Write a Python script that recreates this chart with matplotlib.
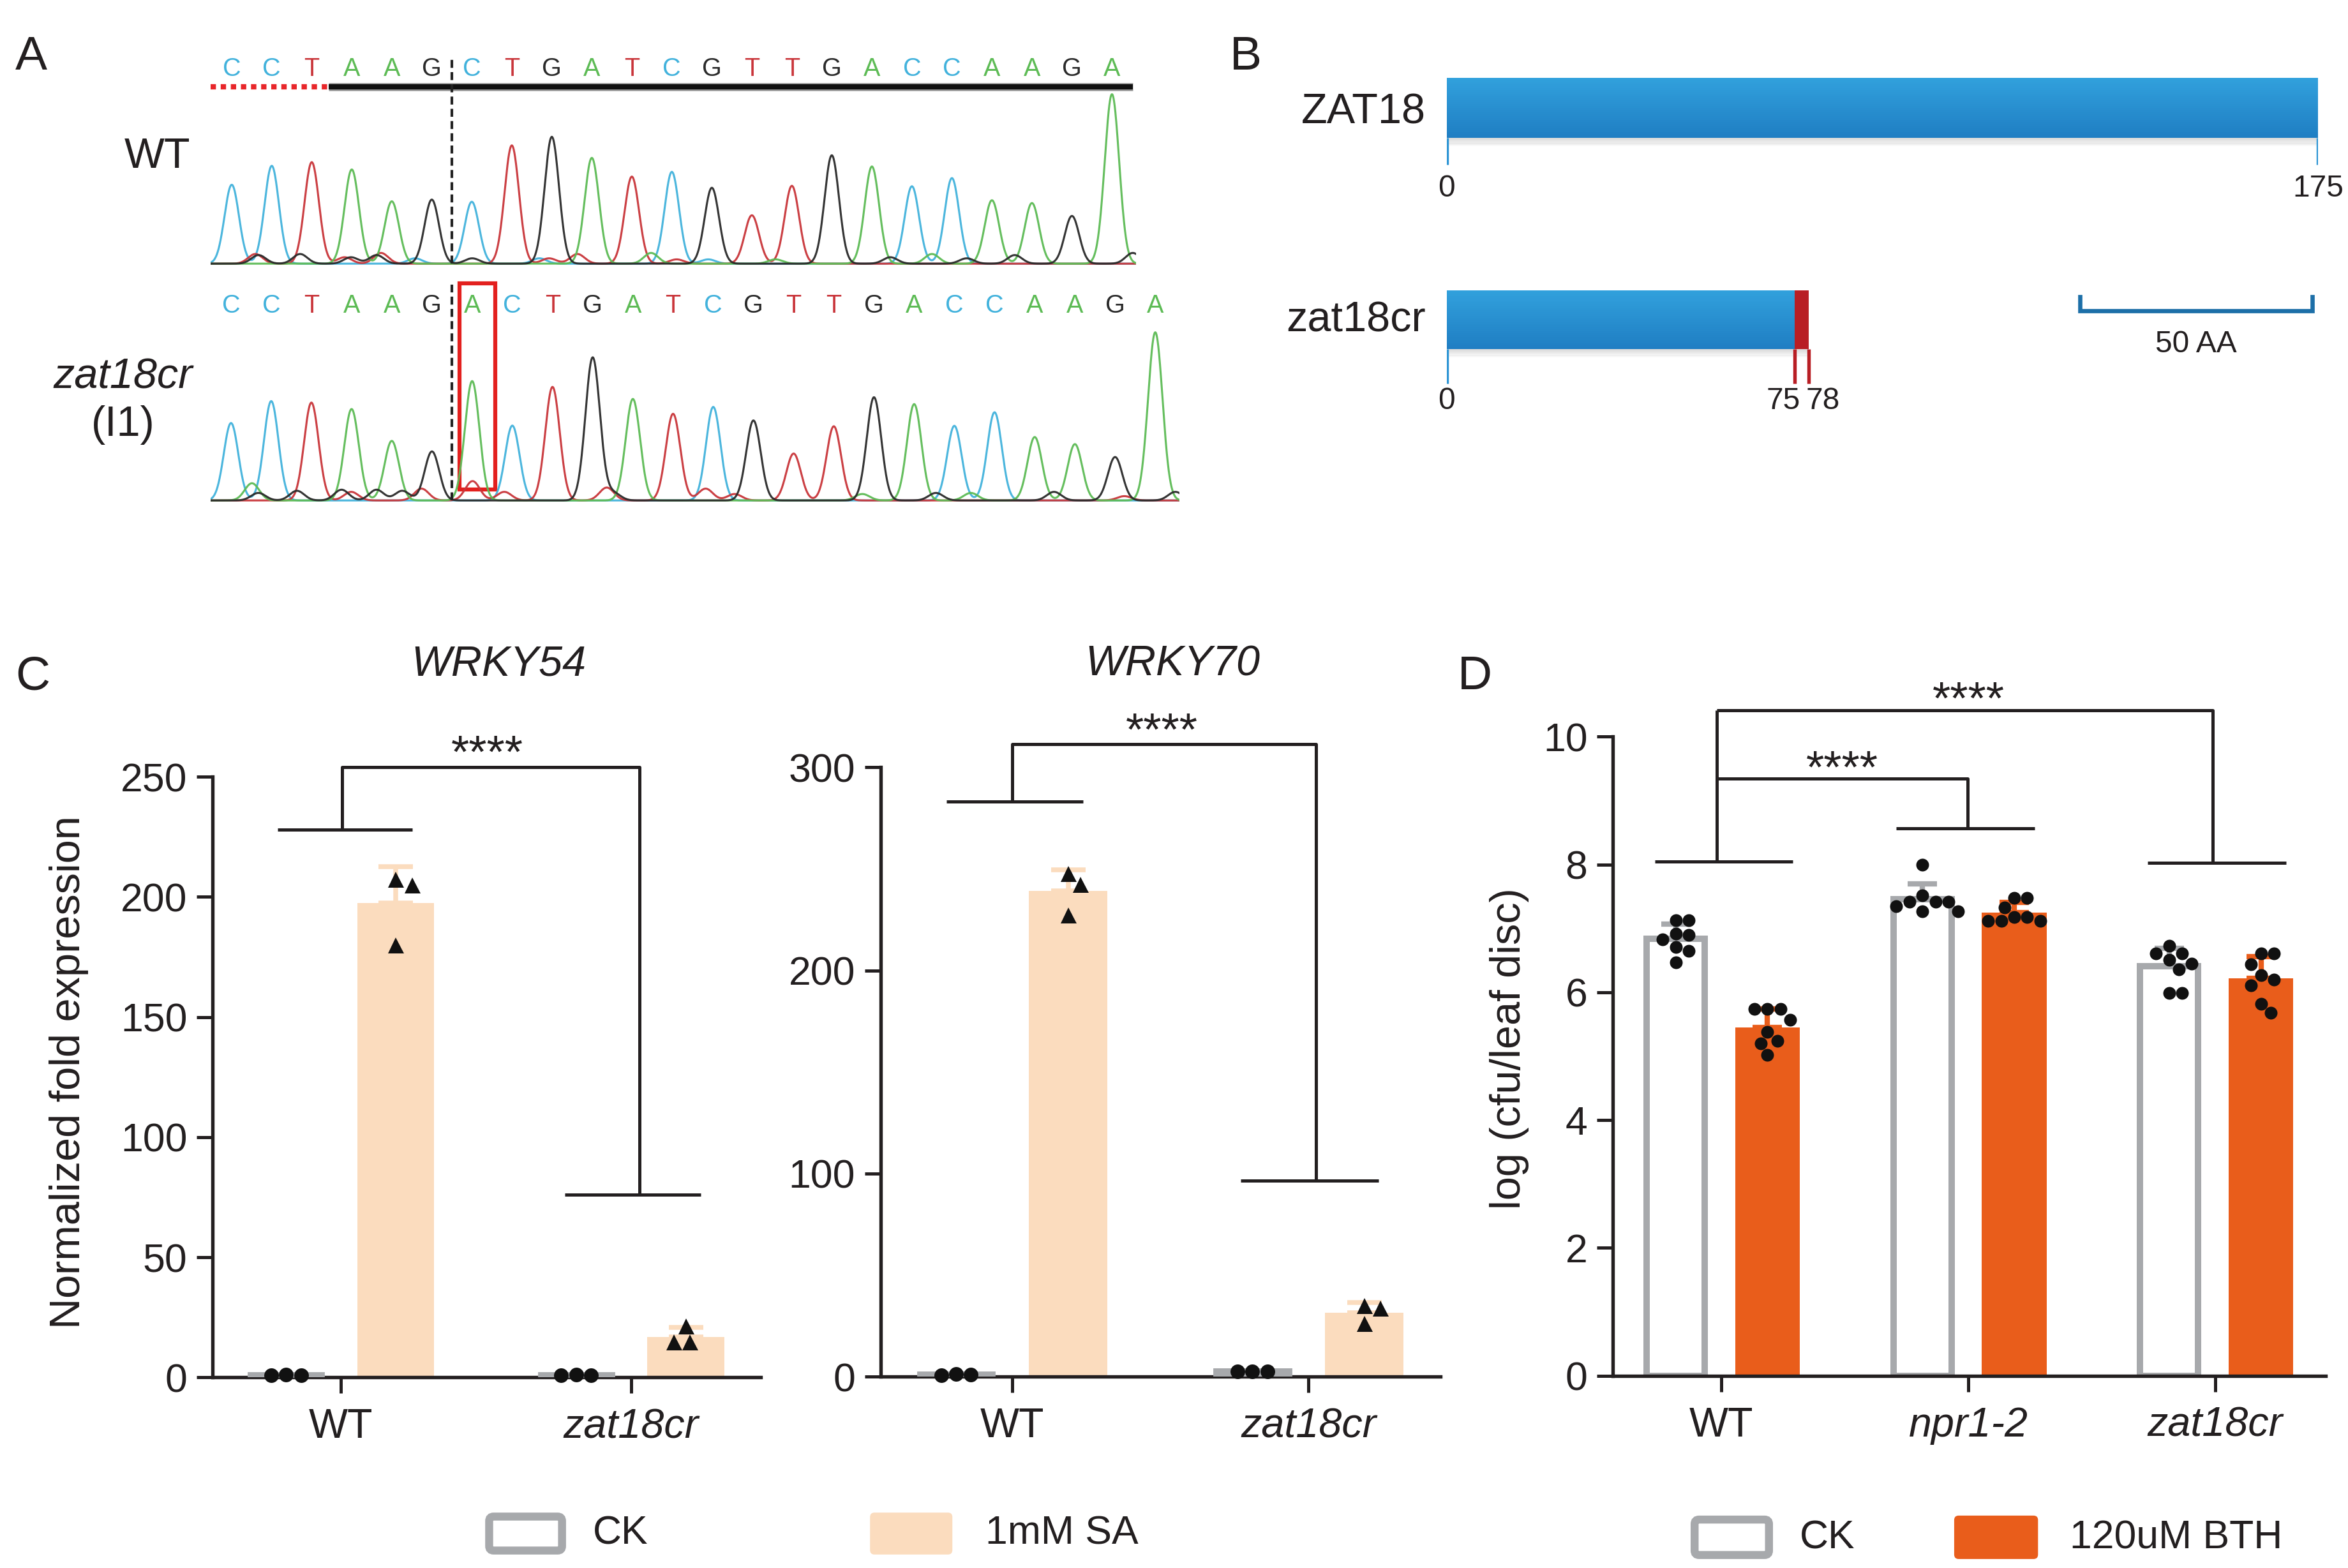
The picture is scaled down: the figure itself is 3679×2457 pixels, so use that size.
import numpy as np
import matplotlib
matplotlib.use("Agg")
import matplotlib.pyplot as plt
from matplotlib.patches import Rectangle, FancyBboxPatch
from matplotlib.colors import to_rgb
import matplotlib.transforms as mtrans

plt.rcParams['font.family'] = ['Liberation Sans', 'DejaVu Sans']
INK = '#231f20'

# ======================= DATA =======================
# Panel A : Sanger traces (called bases + main peak heights, arbitrary units)
wt_bases = list("CCTAAGCTGATCGTTGACCAAGA")
wt_heights = [367, 455, 472, 438, 290, 298, 288, 550, 590, 492, 405, 427,
              353, 225, 362, 485, 452, 360, 398, 295, 282, 222, 788]
wt_minor_pos = [0.59, 0.67, 1.71, 2.82, 2.98, 3.62, 3.73, 4.58, 6.01, 7.69, 7.93,
                8.64, 10.48, 11.12, 11.91, 13.59, 14.94, 16.46, 17.50, 18.37, 19.57, 22.52]
wt_minor_base = list("TGGTGGTCGCTTATCAGGAGGG")
wt_minor_h = [45, 40, 45, 30, 30, 40, 50, 25, 25, 25, 25,
              45, 50, 20, 20, 20, 20, 30, 45, 25, 40, 50]

mut_bases = list("CCTAAGACTGATCGTTGACCAAGA")
mut_heights = [360, 462, 455, 425, 277, 228, 555, 348, 528, 665, 472, 403,
               435, 372, 218, 345, 480, 448, 347, 410, 295, 262, 202, 782]
mut_minor_pos = [0.52, 0.68, 1.64, 2.75, 2.99, 3.62, 4.26, 4.74, 6.01, 6.80,
                 9.35, 9.51, 11.81, 12.53, 15.71, 17.54, 18.41, 20.48, 22.23, 23.50]
mut_minor_base = list("AGGGTGGTTTTGTTAGAGTG")
mut_minor_h = [80, 35, 45, 50, 40, 50, 45, 55, 90, 40,
               60, 35, 55, 30, 30, 35, 35, 40, 20, 40]
cut_site = 5.5           # between base 6 and 7
insert_index = 6         # inserted A in zat18cr

# Panel B : protein lengths (aa)
zat18_len = 175
zat18cr_inframe = 75
zat18cr_end = 78
scale_bar_aa = 50

# Panel C : normalized fold expression (3 replicates)
c_groups = ['WT', 'zat18cr']
w54_ck = [[1.0, 0.9, 1.1], [1.2, 0.8, 1.0]]
w54_sa = [[207.3, 204.9, 179.9], [21.3, 14.6, 14.6]]
w70_ck = [[0.8, 1.2, 1.0], [2.4, 2.6, 2.5]]
w70_sa = [[247.6, 242.3, 227.2], [34.9, 33.7, 26.0]]
w54_yticks = [0, 50, 100, 150, 200, 250]
w70_yticks = [0, 100, 200, 300]

# Panel D : log(cfu/leaf disc), 8 leaf discs
d_groups = ['WT', 'npr1-2', 'zat18cr']
d_ck = [[7.13, 7.13, 6.92, 6.83, 6.90, 6.71, 6.65, 6.47],
        [8.00, 7.52, 7.42, 7.42, 7.42, 7.35, 7.27, 7.27],
        [6.73, 6.61, 6.61, 6.51, 6.45, 6.36, 5.99, 5.99]]
d_bth = [[5.74, 5.74, 5.74, 5.57, 5.38, 5.24, 5.20, 5.02],
         [7.48, 7.48, 7.33, 7.18, 7.18, 7.12, 7.12, 7.12],
         [6.61, 6.61, 6.44, 6.27, 6.20, 6.11, 5.82, 5.68]]
d_yticks = [0, 2, 4, 6, 8, 10]

# ======================= FIGURE =======================
fig = plt.figure(figsize=(3679/300, 2457/300), dpi=300)
W, H = 1568.0, 1047.0


def rect(x0, y0, x1, y1):
    return [x0/W, 1 - y1/H, (x1-x0)/W, (y1-y0)/H]


ov = fig.add_axes([0, 0, 1, 1], zorder=10)
ov.set_xlim(0, W); ov.set_ylim(H, 0); ov.axis('off'); ov.patch.set_alpha(0)

# ---------------- Panel A ----------------
BASECOL = {'A': '#5dbb55', 'C': '#42b2dc', 'G': '#2a2a2a', 'T': '#c9353a'}


def chromatogram(ax, bases, heights, mpos, mbase, mh, xlim):
    xs = np.linspace(xlim[0], xlim[1], 4000)
    idx = np.arange(len(bases))
    for b in 'CTAG':
        y = np.zeros_like(xs)
        for i, bb, h in zip(idx, bases, heights):
            if bb == b:
                y += h*np.exp(-0.5*((xs-i)/0.18)**2)
        for p, bb, h in zip(mpos, mbase, mh):
            if bb == b:
                y += h*np.exp(-0.5*((xs-p)/0.18)**2)
        ax.plot(xs, y, color=BASECOL[b], lw=0.75, alpha=0.95)
    for i, bb in zip(idx, bases):
        ax.text(i, 905, bb, color=BASECOL[bb], ha='center', va='center',
                fontsize=9.5, clip_on=False)
    ax.set_xlim(*xlim); ax.set_ylim(-10, 800); ax.axis('off')


axw = fig.add_axes(rect(140.6, 61.2, 758.6, 177.5))
chromatogram(axw, wt_bases, wt_heights, wt_minor_pos, wt_minor_base, wt_minor_h, (-0.53, 22.6))
axw.plot([2.42, 22.52], [822, 822], color='#9a9a9a', lw=3.0, solid_capstyle='butt', clip_on=False)
axw.plot([2.42, 22.52], [822, 822], color='#111111', lw=2.0, solid_capstyle='butt', clip_on=False)
axw.plot([-0.53, 2.42], [822, 822], color='#e8262a', lw=2.0, ls=(0, (1, 0.9)), clip_on=False)
axw.plot([cut_site, cut_site], [0, 960], color='#222222', lw=1.0, ls=(0, (3, 1.6)), clip_on=False)

axm = fig.add_axes(rect(140.6, 219.3, 787.6, 335.6))
chromatogram(axm, mut_bases, mut_heights, mut_minor_pos, mut_minor_base, mut_minor_h, (-0.51, 23.6))
axm.plot([cut_site, cut_site], [0, 1004], color='#222222', lw=1.0, ls=(0, (3, 1.6)), clip_on=False)
axm.add_patch(Rectangle((insert_index-0.31, 50), 0.88, 960, fill=False,
                        edgecolor='#e3201e', lw=1.5, clip_on=False))

ov.text(105, 105, 'WT', fontsize=16, ha='center', va='center', color=INK)
ov.text(82, 252, 'zat18cr', fontsize=16, ha='center', va='center', style='italic', color=INK)
ov.text(82, 284, '(I1)', fontsize=16, ha='center', va='center', color=INK)

# ---------------- Panel B ----------------
def mix(c1, c2, t):
    a, b = np.array(to_rgb(c1)), np.array(to_rgb(c2))
    return tuple(a*(1-t) + b*t)


def gradbar(ax, x0, x1, y0, y1, ctop, cbot, n=30):
    for k in range(n):
        ax.add_patch(Rectangle((x0, y0 + (y1-y0)*k/n), x1-x0, (y1-y0)/n*1.05,
                               facecolor=mix(ctop, cbot, k/(n-1)), edgecolor='none', zorder=3))


def shadow(ax, x0, x1, y1):
    for k in range(6):
        ax.add_patch(Rectangle((x0, y1 + k*0.9), x1-x0, 1.0, facecolor='#808080',
                               alpha=0.28*(1-k/6), edgecolor='none', zorder=2))


BLUE_T, BLUE_B, RED = '#31a0dc', '#1f7ec3', '#b81e24'

axb1 = fig.add_axes(rect(966, 40, 1548, 140))
axb1.set_xlim(0, zat18_len); axb1.set_ylim(140, 40); axb1.axis('off')
gradbar(axb1, 0, zat18_len, 52, 92, BLUE_T, BLUE_B)
shadow(axb1, 0, zat18_len, 92)
axb1.vlines([0, zat18_len], 92, 110, color='#2d95d4', lw=1.3, zorder=4)
for v in [0, zat18_len]:
    axb1.text(v, 126, str(v), ha='center', va='center', fontsize=11.5, color=INK)

sc2 = 3.10
axb2 = fig.add_axes(rect(966, 180, 966 + zat18_len*sc2, 280))
axb2.set_xlim(0, zat18_len); axb2.set_ylim(280, 180); axb2.axis('off')
gradbar(axb2, 0, zat18cr_inframe, 194, 233, BLUE_T, BLUE_B)
axb2.add_patch(Rectangle((zat18cr_inframe, 194), zat18cr_end - zat18cr_inframe, 39,
                         facecolor=RED, edgecolor='none', zorder=3))
shadow(axb2, 0, zat18cr_end, 233)
axb2.vlines([0], 233, 256, color='#2d95d4', lw=1.3, zorder=4)
axb2.vlines([zat18cr_inframe, zat18cr_end], 233, 256, color=RED, lw=1.3, zorder=4)
axb2.text(0, 268, '0', ha='center', va='center', fontsize=11.5, color=INK)
axb2.text(zat18cr_inframe + 1.2, 268, str(zat18cr_inframe), ha='right', va='center', fontsize=11.5, color=INK)
axb2.text(zat18cr_end - 0.6, 268, str(zat18cr_end), ha='left', va='center', fontsize=11.5, color=INK)
sb0 = (1389 - 966)/sc2
axb2.plot([sb0, sb0, sb0 + scale_bar_aa, sb0 + scale_bar_aa], [198, 207.5, 207.5, 198],
          color='#1d6fa8', lw=1.6, clip_on=False, solid_joinstyle='miter')
axb2.text(sb0 + scale_bar_aa/2, 230, '%d AA' % scale_bar_aa, ha='center', va='center',
          fontsize=11.5, color=INK)

ov.text(952, 75, 'ZAT18', fontsize=16, ha='right', va='center', color=INK)
ov.text(952, 214, 'zat18cr', fontsize=16, ha='right', va='center', color=INK)

# ---------------- helpers for bar panels ----------------
def style_axes(ax, yticks, xlabels, italic_flags):
    for s in ['top', 'right']:
        ax.spines[s].set_visible(False)
    for s in ['left', 'bottom']:
        ax.spines[s].set_linewidth(1.3)
        ax.spines[s].set_color(INK)
    ax.set_yticks(yticks)
    ax.set_xticks(range(len(xlabels)))
    ax.set_xticklabels(xlabels)
    for lab, it in zip(ax.get_xticklabels(), italic_flags):
        lab.set_style('italic' if it else 'normal')
    ax.tick_params(axis='both', direction='out', length=6, width=1.2, color=INK,
                   labelsize=15, labelcolor=INK, pad=3.5)
    ax.tick_params(axis='x', labelsize=15.5, pad=5.5)


def swarm_offsets(ax, vals, ms):
    fw, fh = fig.get_size_inches()*fig.dpi
    bb = ax.get_position()
    x0, x1 = ax.get_xlim(); y0, y1 = ax.get_ylim()
    ppx = bb.width*fw/(x1-x0); ppy = bb.height*fh/(y1-y0)
    d = ms*fig.dpi/72.0*1.02
    vals = np.asarray(vals, float)
    order = np.argsort(-vals, kind='stable')
    steps = [0.0]
    for j in range(1, 80):
        steps += [j*d/4, -j*d/4]
    placed = []
    offs = np.zeros(len(vals))
    for k in order:
        yy = vals[k]*ppy
        for s in steps:
            if all((s-px)**2 + (yy-py)**2 >= d*d for px, py in placed):
                break
        placed.append((s, yy)); offs[k] = s/ppx
    return offs


def stars(ax, x, yc, fs):
    tr = mtrans.offset_copy(ax.transData, fig=fig, y=-0.47*fs, units='points')
    ax.text(x, yc, '****', transform=tr, ha='center', va='baseline', fontsize=fs,
            color=INK, clip_on=False)


def bline(ax, xs, ys):
    ax.plot(xs, ys, color=INK, lw=1.2, clip_on=False, solid_capstyle='butt')


GREY = '#a7a9ac'
PEACH = '#fbdcbe'
ORANGE = '#e95d1b'


def draw_c(ax, ck, sa, off=0.189, w=0.265):
    for g in range(len(ck)):
        m_ck, m_sa = np.mean(ck[g]), np.mean(sa[g])
        s_ck, s_sa = np.std(ck[g], ddof=1), np.std(sa[g], ddof=1)
        ax.bar(g - off, m_ck, width=w - 0.022, facecolor='white', edgecolor=GREY, lw=2.6, zorder=2.6)
        ax.bar(g + off, m_sa, width=w, facecolor=PEACH, edgecolor='none', zorder=2)
        ax.errorbar([g - off], [m_ck], yerr=[[0], [s_ck]], fmt='none', ecolor=GREY,
                    elinewidth=1.8, capsize=6, capthick=1.8, zorder=2.6)
        ax.errorbar([g + off], [m_sa], yerr=[[0], [s_sa]], fmt='none', ecolor=PEACH,
                    elinewidth=1.8, capsize=6.5, capthick=1.8, zorder=1.9)
        o1 = swarm_offsets(ax, ck[g], 5.5)
        ax.plot(g - off + o1, ck[g], 'o', color='#111111', ms=5.5, mew=0, zorder=4, clip_on=False)
        o2 = swarm_offsets(ax, sa[g], 6.0)
        ax.plot(g + off + o2, sa[g], '^', color='#111111', ms=6.0, mew=0, zorder=4, clip_on=False)


# ---------------- Panel C (left: WRKY54) ----------------
axc1 = fig.add_axes(rect(142, 518.7, 508, 919.7))
axc1.set_xlim(-0.442, 1.447); axc1.set_ylim(0, 250)
style_axes(axc1, w54_yticks, c_groups, [False, True])
draw_c(axc1, w54_ck, w54_sa)
bline(axc1, [-0.219, 0.246], [228, 228])
bline(axc1, [0.004, 0.004, 1.03, 1.03], [228, 254, 254, 76])
bline(axc1, [0.772, 1.24], [76, 76])
stars(axc1, 0.504, 263, 17.5)

# ---------------- Panel C (right: WRKY70) ----------------
axc2 = fig.add_axes(rect(588, 512.3, 962, 919.2))
axc2.set_xlim(-0.444, 1.446); axc2.set_ylim(0, 300)
style_axes(axc2, w70_yticks, c_groups, [False, True])
draw_c(axc2, w70_ck, w70_sa)
bline(axc2, [-0.222, 0.240], [283, 283])
bline(axc2, [0.0, 0.0, 1.026, 1.026], [283, 311.5, 311.5, 96.4])
bline(axc2, [0.772, 1.236], [96.4, 96.4])
stars(axc2, 0.505, 321.6, 17.5)

ov.text(333, 444, 'WRKY54', fontsize=16, style='italic', ha='center', va='center', color=INK)
ov.text(783, 444, 'WRKY70', fontsize=16, style='italic', ha='center', va='center', color=INK)
ov.text(46, 716, 'Normalized fold expression', fontsize=16, rotation=90,
        ha='center', va='center', color=INK)

# ---------------- Panel D ----------------
axd = fig.add_axes(rect(1077, 491.9, 1553, 918.6))
axd.set_xlim(-0.441, 2.448); axd.set_ylim(0, 10)
style_axes(axd, d_yticks, d_groups, [False, True, True])
off, w = 0.186, 0.262
for g in range(len(d_groups)):
    m_ck, m_bt = np.mean(d_ck[g]), np.mean(d_bth[g])
    s_ck, s_bt = np.std(d_ck[g], ddof=1), np.std(d_bth[g], ddof=1)
    axd.bar(g - off, m_ck, width=w - 0.026, facecolor='white', edgecolor=GREY, lw=2.4, zorder=2)
    axd.bar(g + off, m_bt, width=w, facecolor=ORANGE, edgecolor='none', zorder=2)
    axd.errorbar([g - off], [m_ck], yerr=[[0], [s_ck]], fmt='none', ecolor=GREY,
                 elinewidth=2.0, capsize=5.5, capthick=2.0, zorder=3)
    axd.errorbar([g + off], [m_bt], yerr=[[0], [s_bt]], fmt='none', ecolor=ORANGE,
                 elinewidth=2.0, capsize=5.5, capthick=2.0, zorder=3)
    o1 = swarm_offsets(axd, d_ck[g], 4.8)
    axd.plot(g - off + o1, d_ck[g], 'o', color='#111111', ms=4.8, mew=0, zorder=4)
    o2 = swarm_offsets(axd, d_bth[g], 4.8)
    axd.plot(g + off + o2, d_bth[g], 'o', color='#111111', ms=4.8, mew=0, zorder=4)

bline(axd, [-0.271, 0.288], [8.05, 8.05])
bline(axd, [0.708, 1.269], [8.57, 8.57])
bline(axd, [1.726, 2.288], [8.03, 8.03])
bline(axd, [-0.02, -0.02], [8.05, 10.41])
bline(axd, [-0.02, 0.998, 0.998], [9.34, 9.34, 8.57])
bline(axd, [-0.02, 1.99, 1.99], [10.41, 10.41, 8.03])
stars(axd, 0.49, 9.62, 17.5)
stars(axd, 1.0, 10.70, 17.5)
ov.text(1008, 700, 'log (cfu/leaf disc)', fontsize=16, rotation=90,
        ha='center', va='center', color=INK)

# ---------------- Legends ----------------
def legbox(x0, y0, x1, y1, fc, ec, lw):
    inset = lw*300/72/2/2.346 if ec != 'none' else 0
    ov.add_patch(FancyBboxPatch((x0 + inset, y0 + inset), x1 - x0 - 2*inset, y1 - y0 - 2*inset,
                                boxstyle='round,pad=0,rounding_size=3', facecolor=fc,
                                edgecolor=ec, lw=lw))


legbox(324, 1010, 378, 1038, 'white', GREY, 3.0)
ov.text(396, 1024, 'CK', fontsize=15, ha='left', va='center', color=INK)
legbox(581, 1010, 636, 1038, PEACH, 'none', 0)
ov.text(658, 1024, '1mM SA', fontsize=15, ha='left', va='center', color=INK)

legbox(1129, 1012, 1184, 1041, 'white', GREY, 3.0)
ov.text(1202, 1027, 'CK', fontsize=15, ha='left', va='center', color=INK)
legbox(1305, 1012, 1361, 1041, ORANGE, 'none', 0)
ov.text(1382, 1027, '120uM BTH', fontsize=15, ha='left', va='center', color=INK)

# ---------------- Panel letters ----------------
for lab, (x, y) in {'A': (21, 38), 'B': (832, 38), 'C': (22, 452), 'D': (985, 452)}.items():
    ov.text(x, y, lab, fontsize=18, ha='center', va='center', color=INK)

fig.savefig('out.png', dpi=300)
